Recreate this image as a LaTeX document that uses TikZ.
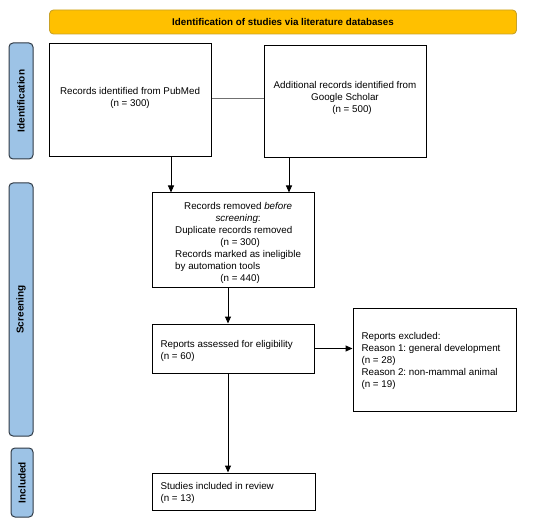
\documentclass[tikz,border=0pt]{standalone}
\usepackage{fontspec}
\setmainfont{Liberation Sans}
\usetikzlibrary{arrows.meta}
\frenchspacing
\definecolor{bannerfill}{HTML}{FFC000}
\definecolor{bannerdraw}{HTML}{C9A227}
\definecolor{sidefill}{HTML}{9DC3E6}
\definecolor{sidedraw}{HTML}{2F3A45}
\definecolor{linkgray}{HTML}{707070}
\begin{document}
\begin{tikzpicture}[x=1pt,y=-1pt,
  every node/.style={font=\fontsize{9.8}{12}\selectfont},
  box/.style={draw=black,line width=1pt,fill=white,inner sep=0pt,rectangle},
  banner/.style={draw=bannerdraw,fill=bannerfill,line width=0.9pt,rounded corners=4pt,inner sep=0pt,
    font=\fontsize{9.8}{11}\selectfont\bfseries},
  side/.style={draw=sidedraw,fill=sidefill,line width=1pt,rounded corners=4pt,inner sep=0pt},
  sidetext/.style={rotate=90,font=\fontsize{10}{12}\selectfont\bfseries},
  arr/.style={line width=1pt,-{Triangle[length=7pt,width=6pt]}},
  link/.style={draw=linkgray,line width=1pt}]
\useasboundingbox (0,0) rectangle (550,527);

\node[banner,minimum width=467pt,minimum height=24pt] (ban) at (283,22) {Identification of studies via literature databases};

\node[side,minimum width=24pt,minimum height=116pt] (s1) at (21,101) {};
\node[sidetext] (s1t) at (s1.center) {Identification};
\node[side,minimum width=24pt,minimum height=253pt] (s2) at (21,309.5) {};
\node[sidetext] (s2t) at (s2.center) {Screening};
\node[side,minimum width=22pt,minimum height=69pt] (s3) at (22,482.5) {};
\node[sidetext] (s3t) at (s3.center) {Included};

\node[box,minimum width=162pt,minimum height=113pt] (pub) at (130,100.5) {};
\node[align=center] (pubt) at (130,97.5) {Records identified from PubMed\\(n = 300)};

\node[box,minimum width=162pt,minimum height=112pt] (goo) at (345,102) {};
\node[align=center] (goot) at (345,98) {Additional records identified from\\Google Scholar\\\hspace*{14pt}(n = 500)};

\node[box,minimum width=162pt,minimum height=94pt] (rem) at (233,240) {};
\node[anchor=north west,inner sep=0pt] (remt) at (175,200.5) {%
\begin{tabular}{@{}l@{}}
\multicolumn{1}{@{}c@{}}{Records removed \textit{before}}\\
\multicolumn{1}{@{}c@{}}{\textit{screening}:}\\
Duplicate records removed\\
\multicolumn{1}{@{}c@{}}{\hspace*{4pt}(n = 300)}\\
Records marked as ineligible\\
by automation tools\\
\multicolumn{1}{@{}c@{}}{\hspace*{4pt}(n = 440)}
\end{tabular}};

\node[box,minimum width=162pt,minimum height=49pt] (ass) at (233,348.5) {};
\node[anchor=west,align=left] (asst) at (157,350.5) {Reports assessed for eligibility\\(n = 60)};

\node[box,minimum width=163pt,minimum height=103pt] (exc) at (434.5,359.5) {};
\node[anchor=west,align=left] (exct) at (358,361) {Reports excluded:\\Reason 1: general development\\(n = 28)\\Reason 2: non-mammal animal\\(n = 19)};

\node[box,minimum width=163pt,minimum height=37pt] (inc) at (233.5,491.5) {};
\node[anchor=west,align=left] (inct) at (157,493) {Studies included in review\\(n = 13)};

\draw[link] ([yshift=1.5pt]pub.east) -- ([yshift=1.5pt]pub.east -| goo.west);
\draw[arr] ([xshift=41pt]pub.south) -- ([xshift=41pt]pub.south |- rem.north);
\draw[arr] ([xshift=-56pt]goo.south) -- ([xshift=-56pt]goo.south |- rem.north);
\draw[arr] ([xshift=-5pt]rem.south) -- ([xshift=-5pt]rem.south |- ass.north);
\draw[arr] (ass.east) -- (ass.east -| exc.west);
\draw[arr] ([xshift=-5pt]ass.south) -- ([xshift=-5pt]ass.south |- inc.north);
\end{tikzpicture}
\end{document}
